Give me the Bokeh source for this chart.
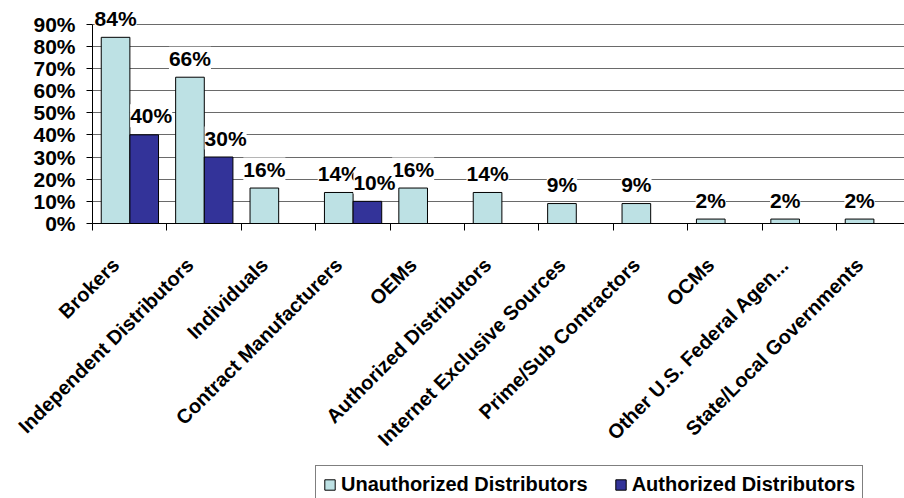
from math import pi
from bokeh.plotting import figure
from bokeh.layouts import column
from bokeh.models import (ColumnDataSource, FixedTicker, PrintfTickFormatter, LabelSet,
                          Legend, LegendItem, Range1d, LinearAxis, Grid)
from bokeh.transform import dodge
from bokeh.core.properties import value
from bokeh.embed import file_html
from bokeh.resources import INLINE

categories = ["Brokers", "Independent Distributors", "Individuals", "Contract Manufacturers",
              "OEMs", "Authorized Distributors", "Internet Exclusive Sources",
              "Prime/Sub Contractors", "OCMs", "Other U.S. Federal Agen...",
              "State/Local Governments"]
unauthorized = [84, 66, 16, 14, 16, 14, 9, 9, 2, 2, 2]
authorized = [40, 30, None, 10, None, None, None, None, None, None, None]
y_ticks = [0, 10, 20, 30, 40, 50, 60, 70, 80, 90]
series_names = ["Unauthorized Distributors", "Authorized Distributors"]

FONT = "Liberation Sans"
LIGHT = "#BDE1E4"
DARK = "#333399"
BAR_W = 0.385
# category slot = [i - 0.31, i + 0.69]; label anchor at i, first bar centred at i
pos = list(range(1, len(categories) + 1))
bounds = [i - 0.31 for i in range(1, len(categories) + 2)]

src_u = ColumnDataSource(dict(x=pos, top=unauthorized, label=[f"{v}%" for v in unauthorized]))
ax = [x for x, v in zip(pos, authorized) if v is not None]
av = [v for v in authorized if v is not None]
src_a = ColumnDataSource(dict(x=ax, top=av, label=[f"{v}%" for v in av]))

p = figure(width=904, height=461, x_range=Range1d(bounds[0], bounds[0] + 10.914), y_range=Range1d(0, 97),
           output_backend="svg", toolbar_location=None, x_axis_type=None, y_axis_type=None,
           min_border_left=92, min_border_right=0, min_border_top=8, min_border_bottom=238)
p.outline_line_color = None
p.background_fill_color = "white"

xaxis = LinearAxis(ticker=FixedTicker(ticks=pos, minor_ticks=bounds),
                   major_label_overrides={i: c for i, c in zip(pos, categories)},
                   major_label_orientation=pi / 4)
xaxis.major_tick_out = 0
xaxis.major_tick_in = 0
xaxis.minor_tick_out = 7
xaxis.minor_tick_in = 0
xaxis.minor_tick_line_color = "black"
xaxis.axis_line_color = "black"
xaxis.major_label_text_font = FONT
xaxis.major_label_text_font_size = "20px"
xaxis.major_label_text_font_style = "bold"
xaxis.major_label_text_color = "black"
xaxis.major_label_standoff = 31
p.add_layout(xaxis, "below")

yaxis = LinearAxis(ticker=FixedTicker(ticks=y_ticks), formatter=PrintfTickFormatter(format="%d%%"),
                   bounds=(0, 90))
yaxis.major_tick_out = 6
yaxis.major_tick_in = 0
yaxis.minor_tick_out = 0
yaxis.minor_tick_in = 0
yaxis.axis_line_color = "black"
yaxis.major_tick_line_color = "black"
yaxis.major_label_text_font = FONT
yaxis.major_label_text_font_size = "21px"
yaxis.major_label_text_font_style = "bold"
yaxis.major_label_text_color = "black"
yaxis.major_label_standoff = 11
p.add_layout(yaxis, "left")

grid = Grid(dimension=1, ticker=FixedTicker(ticks=y_ticks))
grid.grid_line_color = "#6a6a6a"
grid.grid_line_width = 1
p.add_layout(grid)

bar_u = dict(top="top", width=BAR_W, bottom=0, source=src_u,
             fill_color=LIGHT, line_color="black", line_width=1)
bar_a = dict(top="top", width=BAR_W, bottom=0, source=src_a,
             fill_color=DARK, line_color="black", line_width=1)
p.vbar(x="x", **bar_u)
p.vbar(x=dodge("x", BAR_W, range=p.x_range), **bar_a)

lab_u = LabelSet(x="x", y="top", text="label", source=src_u,
                 text_font=value(FONT), text_font_size="21px", text_font_style="bold",
                 text_color="black", text_align="center", text_baseline="alphabetic",
                 y_offset=11.5, background_fill_color="white")
lab_a = LabelSet(x=dodge("x", BAR_W, range=p.x_range), y="top", text="label", source=src_a,
                 text_font=value(FONT), text_font_size="21px", text_font_style="bold",
                 text_color="black", text_align="center", text_baseline="alphabetic",
                 x_offset=7, y_offset=11.5, background_fill_color="white")
p.add_layout(lab_u)
p.add_layout(lab_a)

# legend strip below the chart (hidden renderers only provide the legend swatches)
lg = figure(width=904, height=37, x_range=Range1d(0, 1), y_range=Range1d(0, 1),
            output_backend="svg", toolbar_location=None, x_axis_type=None, y_axis_type=None,
            min_border_left=0, min_border_right=0, min_border_top=0, min_border_bottom=0)
lg.outline_line_color = None
lr1 = lg.vbar(x="x", visible=False, **bar_u)
lr2 = lg.vbar(x="x", visible=False, **bar_a)

legend = Legend(items=[LegendItem(label=series_names[0], renderers=[lr1]),
                       LegendItem(label=series_names[1], renderers=[lr2])],
                orientation="horizontal", location=(223, -6))
legend.border_line_color = "black"
legend.border_line_width = 1
legend.background_fill_color = "white"
legend.background_fill_alpha = 1
legend.padding = 7
legend.spacing = 26
legend.margin = 0
legend.glyph_width = 13
legend.glyph_height = 13
legend.label_standoff = 5
legend.label_text_font = FONT
legend.label_text_font_size = "20px"
legend.label_text_font_style = "bold"
legend.label_text_color = "black"
lg.add_layout(legend)

layout = column(p, lg, spacing=0)
open("out.html", "w").write(file_html(layout, INLINE))
